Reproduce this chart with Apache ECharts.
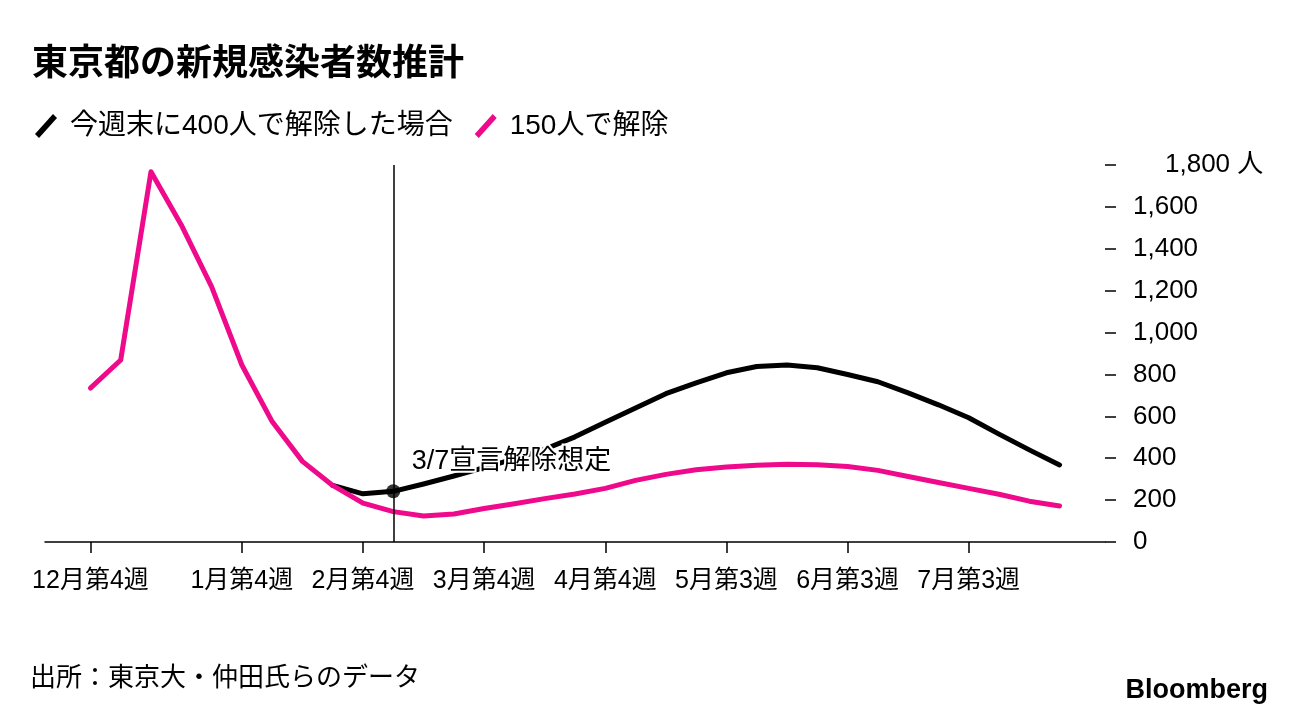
<!DOCTYPE html>
<html>
<head>
<meta charset="utf-8">
<script src="https://cdn.jsdelivr.net/npm/echarts@6/dist/echarts.min.js"></script>
<style>
html,body{margin:0;padding:0;background:#fff;}
#c{width:1296px;height:718px;}
</style>
</head>
<body>
<div id="c"></div>
<script>
// week index 0 = 12月第4週, one point per week
var weekTickIndex = [0, 5, 9, 13, 17, 21, 25, 29];
var weekTickLabels = ['12月第4週', '1月第4週', '2月第4週', '3月第4週', '4月第4週', '5月第3週', '6月第3週', '7月第3週'];
var yTicks = [0, 200, 400, 600, 800, 1000, 1200, 1400, 1600, 1800];

var seriesNames = ['今週末に400人で解除した場合', '150人で解除'];
var lift400 = [null, null, null, null, null, null, null, null,
  270, 230, 242, 277, 315, 355, 397, 443, 502, 572, 640, 708, 760, 808,
  838, 845, 832, 800, 765, 712, 655, 593, 515, 440, 368];
var lift150 = [735, 869, 1768, 1514, 1219, 845, 575, 385, 270, 186, 145, 124, 134,
  160, 183, 207, 229, 256, 294, 323, 345, 358, 366, 371, 369, 360, 342, 313,
  284, 256, 228, 195, 172];
var liftWeek = 10;
var liftLabel = '3/7宣言解除想定';
var titleText = '東京都の新規感染者数推計';
var sourceText = '出所：東京大・仲田氏らのデータ';

var PINK = '#ef0a8c';
var FONT = '"Liberation Sans", "Noto Sans CJK JP", sans-serif';

function pairs(arr) {
  var out = [];
  for (var i = 0; i < arr.length; i++) out.push([i, arr[i]]);
  return out;
}
function fmt(v) {
  return String(v).replace(/\B(?=(\d{3})+(?!\d))/g, ',');
}

var chart = echarts.init(document.getElementById('c'), null, {renderer: 'canvas'});
var slash = 'path://M4,24 L0,20 L18,0 L22,4 Z';

chart.setOption({
  animation: false,
  backgroundColor: '#fff',
  textStyle: {fontFamily: FONT},
  title: {
    text: titleText, left: 27, top: 42,
    textStyle: {fontSize: 36, fontWeight: 'bold', color: '#000', fontFamily: FONT}
  },
  legend: {
    data: seriesNames,
    left: 30, top: 107,
    itemWidth: 22, itemHeight: 24, itemGap: 22,
    icon: slash,
    textStyle: {fontSize: 28, color: '#000', fontFamily: FONT, padding: [0, 0, 0, 8]}
  },
  grid: {left: 45, right: 191, top: 165, bottom: 176, containLabel: false},
  xAxis: {
    type: 'value', min: -1.5, max: 33.5,
    axisLine: {show: true, onZero: false, lineStyle: {color: '#000', width: 1.5}},
    axisTick: {show: true, length: 11, lineStyle: {color: '#000', width: 1.5}, customValues: weekTickIndex},
    axisLabel: {
      show: true, fontSize: 25, color: '#000', margin: 27, fontFamily: FONT,
      customValues: weekTickIndex,
      formatter: function (v) { var k = weekTickIndex.indexOf(Math.round(v)); return k >= 0 ? weekTickLabels[k] : ''; }
    },
    splitLine: {show: false}
  },
  yAxis: {
    type: 'value', position: 'right', min: 0, max: 1800, interval: 200,
    axisLine: {show: false, onZero: false},
    axisTick: {show: true, length: 11, lineStyle: {color: '#000', width: 1.5}},
    splitLine: {show: false},
    axisLabel: {
      fontSize: 26, color: '#000', margin: 28, fontFamily: FONT,
      formatter: function (v) { return v === 1800 ? '{t|' + fmt(v) + ' 人}' : fmt(v); },
      rich: {t: {fontSize: 26, color: '#000', fontFamily: FONT, padding: [0, 0, 0, 32]}}
    }
  },
  series: [
    {
      name: seriesNames[0], type: 'line', data: pairs(lift400),
      color: '#000', showSymbol: false, symbol: 'none', smooth: false,
      lineStyle: {color: '#000', width: 5, cap: 'round', join: 'round'},
      z: 2
    },
    {
      name: seriesNames[1], type: 'line', data: pairs(lift150),
      color: PINK, showSymbol: false, symbol: 'none', smooth: false,
      lineStyle: {color: PINK, width: 5, cap: 'round', join: 'round'},
      z: 3
    },
    {
      name: 'lift', type: 'scatter', data: [[liftWeek, lift400[liftWeek]]],
      symbolSize: 14, itemStyle: {color: '#000'}, z: 5,
      markLine: {
        silent: true, symbol: 'none', animation: false,
        lineStyle: {color: '#000', width: 1.5, type: 'solid'},
        label: {show: false},
        data: [{xAxis: liftWeek}]
      },
      markPoint: {
        silent: true, symbol: 'circle', symbolSize: 1, itemStyle: {color: 'rgba(0,0,0,0)'},
        label: {
          show: true, position: 'right', distance: 18, formatter: liftLabel,
          fontSize: 27, color: '#000', fontFamily: FONT,
          textBorderColor: '#fff', textBorderWidth: 4
        },
        data: [{coord: [liftWeek, 382]}]
      }
    }
  ],
  graphic: [
    {type: 'text', left: 30, top: 666, style: {text: sourceText, fontSize: 26, fill: '#000', fontFamily: FONT}},
    {type: 'text', right: 28, top: 677, style: {text: 'Bloomberg', fontSize: 27, fontWeight: 'bold', fill: '#000', fontFamily: '"Liberation Sans Narrow", "Liberation Sans", sans-serif'}}
  ]
});
</script>
</body>
</html>
